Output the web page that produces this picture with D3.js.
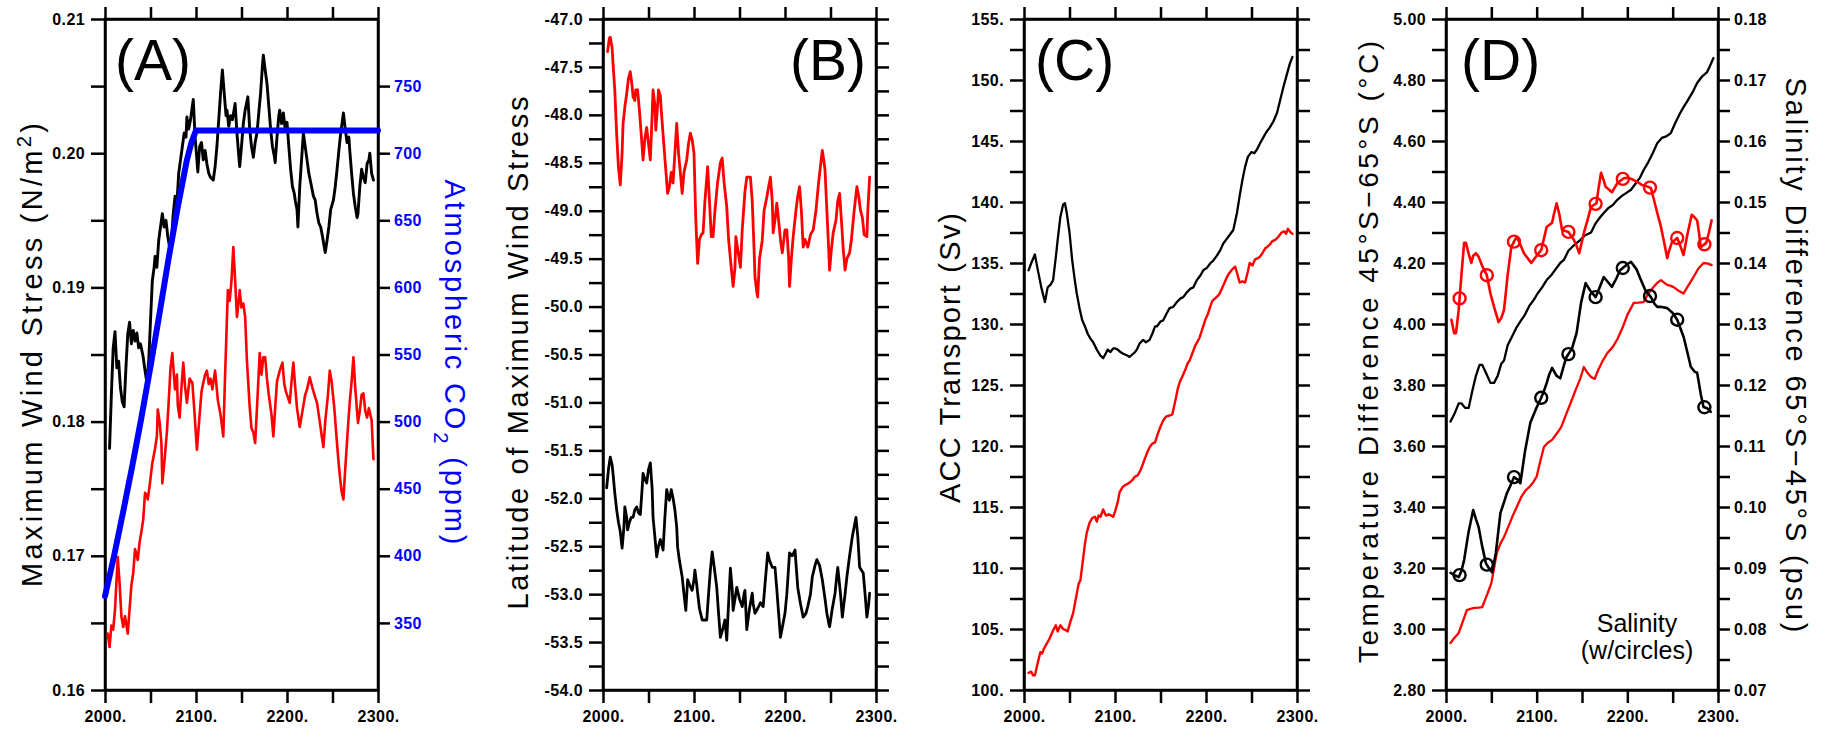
<!DOCTYPE html>
<html><head><meta charset="utf-8">
<script src="https://cdn.jsdelivr.net/npm/d3@7"></script>
<style>body{margin:0;background:#fff} text{font-family:Arial,'Liberation Sans',Helvetica,sans-serif}</style>
</head><body><svg id="c" width="1824" height="730"></svg>
<script>
// ---------------- DATA ----------------
const xTickYears = [2000,2050,2100,2150,2200,2250,2300];
const xLabelYears = [2000,2100,2200,2300];

// Panel A
const aStressLabels = [0.16,0.17,0.18,0.19,0.20,0.21];
const aStressTicks = [0.16,0.165,0.17,0.175,0.18,0.185,0.19,0.195,0.20,0.205,0.21];
const aCO2Ticks = [350,400,450,500,550,600,650,700,750];
const aWindBlack = [[2005,0.178],[2007,0.182],[2009,0.1855],[2011,0.1867],[2013,0.184],[2015,0.1845],[2017,0.1825],[2019,0.1815],[2021,0.1811],[2023,0.184],[2025,0.1865],[2027,0.1874],[2029,0.1858],[2031,0.1868],[2033,0.186],[2035,0.1866],[2037,0.1855],[2039,0.1858],[2042,0.1848],[2044,0.1838],[2046,0.1829],[2048,0.1845],[2050,0.1875],[2052,0.1905],[2054,0.1915],[2055,0.1923],[2057,0.1915],[2059,0.1935],[2061,0.1945],[2063,0.1955],[2065,0.1945],[2067,0.195],[2069,0.1938],[2071,0.193],[2073,0.1935],[2075,0.1955],[2077,0.1968],[2079,0.1962],[2081,0.1985],[2083,0.1995],[2085,0.2005],[2087,0.2015],[2089,0.2012],[2090,0.2027],[2092,0.2018],[2094,0.2025],[2097,0.204],[2099,0.2012],[2101,0.1995],[2102,0.1986],[2104,0.2005],[2106,0.2008],[2108,0.1995],[2110,0.2002],[2112,0.1992],[2114,0.1985],[2116,0.1982],[2119,0.198],[2121,0.199],[2123,0.2005],[2125,0.2025],[2127,0.2045],[2129,0.2062],[2131,0.2045],[2133,0.2028],[2134,0.2032],[2136,0.202],[2138,0.2028],[2140,0.2025],[2143,0.2037],[2145,0.2015],[2147,0.1998],[2148,0.199],[2150,0.2005],[2152,0.2022],[2154,0.2032],[2157,0.2042],[2159,0.2018],[2161,0.2005],[2163,0.1997],[2165,0.2008],[2167,0.2015],[2169,0.203],[2171,0.2045],[2173,0.2065],[2174,0.2073],[2176,0.2062],[2178,0.2052],[2180,0.2035],[2182,0.2018],[2184,0.2005],[2186,0.1998],[2187,0.1993],[2189,0.2012],[2191,0.2028],[2192,0.2032],[2194,0.2022],[2196,0.203],[2198,0.2018],[2200,0.2023],[2202,0.2005],[2204,0.1988],[2206,0.1975],[2208,0.197],[2209,0.1965],[2211,0.1958],[2212,0.1945],[2214,0.1975],[2216,0.1995],[2218,0.2015],[2220,0.2005],[2222,0.1995],[2224,0.1985],[2227,0.1975],[2229,0.1968],[2231,0.1965],[2233,0.1955],[2235,0.1948],[2237,0.1945],[2239,0.1938],[2241,0.193],[2242,0.1926],[2244,0.1935],[2246,0.1945],[2248,0.1958],[2251,0.1965],[2253,0.1975],[2255,0.1988],[2257,0.2002],[2259,0.2015],[2261,0.2025],[2262,0.203],[2264,0.2018],[2266,0.2008],[2268,0.2012],[2269,0.2002],[2271,0.1985],[2273,0.197],[2275,0.196],[2277,0.1952],[2278,0.1955],[2280,0.1975],[2282,0.1988],[2284,0.1982],[2286,0.1978],[2288,0.1992],[2290,0.1995],[2291,0.2],[2293,0.1985],[2295,0.198]];
const aWindRed = [[2003,0.1642],[2005,0.1632],[2007,0.1648],[2009,0.1645],[2011,0.166],[2014,0.1699],[2016,0.168],[2018,0.1655],[2020,0.1647],[2022,0.1655],[2025,0.1642],[2027,0.166],[2029,0.1678],[2031,0.1687],[2033,0.1705],[2036,0.1697],[2038,0.171],[2040,0.1718],[2042,0.1727],[2044,0.1747],[2046,0.1745],[2047,0.1742],[2049,0.1752],[2052,0.1769],[2055,0.178],[2057,0.1789],[2058,0.1809],[2060,0.18],[2062,0.1784],[2063,0.1754],[2065,0.1768],[2068,0.1792],[2070,0.1815],[2072,0.184],[2074,0.1851],[2076,0.1832],[2077,0.1824],[2079,0.1835],[2080,0.1812],[2082,0.1803],[2084,0.1825],[2086,0.1844],[2088,0.1826],[2090,0.1814],[2093,0.1832],[2096,0.1829],[2098,0.181],[2101,0.1779],[2104,0.1805],[2106,0.1822],[2108,0.1829],[2110,0.1835],[2112,0.1838],[2114,0.1828],[2116,0.1832],[2118,0.1824],[2121,0.1838],[2124,0.1816],[2127,0.1805],[2130,0.1789],[2132,0.1835],[2135,0.1898],[2137,0.189],[2139,0.1905],[2141,0.193],[2143,0.1905],[2145,0.1878],[2147,0.189],[2148,0.1898],[2150,0.1885],[2152,0.1888],[2154,0.1878],[2156,0.1845],[2159,0.1811],[2161,0.1795],[2163,0.1792],[2165,0.1784],[2167,0.181],[2170,0.1851],[2172,0.1835],[2174,0.1848],[2176,0.1848],[2178,0.1832],[2180,0.182],[2183,0.1805],[2185,0.1789],[2187,0.181],[2189,0.183],[2192,0.1838],[2195,0.1844],[2197,0.1828],[2199,0.1822],[2201,0.1818],[2203,0.1814],[2205,0.183],[2207,0.1844],[2209,0.1826],[2211,0.181],[2214,0.1796],[2217,0.1808],[2220,0.182],[2222,0.1824],[2225,0.1833],[2228,0.1825],[2231,0.1818],[2233,0.1814],[2236,0.18],[2238,0.179],[2240,0.1781],[2242,0.18],[2245,0.182],[2247,0.1838],[2249,0.183],[2252,0.181],[2254,0.1792],[2256,0.1775],[2258,0.176],[2260,0.1748],[2262,0.1742],[2264,0.1765],[2267,0.1796],[2269,0.1815],[2271,0.183],[2273,0.1848],[2275,0.1825],[2278,0.1799],[2280,0.1808],[2282,0.182],[2284,0.1821],[2286,0.1808],[2288,0.1803],[2290,0.181],[2293,0.1801],[2295,0.1772]];
const aCO2 = [[2000,370],[2010,400],[2020,433],[2030,467],[2040,503],[2050,541],[2060,581],[2070,622],[2080,660],[2090,695],[2095,708],[2100,717],[2300,717]];

// Panel B
const bLatLabels = [-54,-53.5,-53,-52.5,-52,-51.5,-51,-50.5,-50,-49.5,-49,-48.5,-48,-47.5,-47];
const bLatRed = [[2005,-47.34],[2007,-47.2],[2008,-47.19],[2010,-47.3],[2011,-47.46],[2013,-47.75],[2015,-48.2],[2017,-48.55],[2019,-48.73],[2021,-48.4],[2022,-48.1],[2024,-47.92],[2026,-47.78],[2028,-47.62],[2030,-47.55],[2032,-47.7],[2033,-47.81],[2035,-47.85],[2036,-47.74],[2038,-47.74],[2040,-47.95],[2042,-48.2],[2044,-48.47],[2046,-48.25],[2048,-48.13],[2050,-48.3],[2052,-48.47],[2054,-48.0],[2055,-47.74],[2057,-47.9],[2058,-48.16],[2060,-47.9],[2061,-47.74],[2063,-47.8],[2064,-47.95],[2066,-48.2],[2068,-48.45],[2071,-48.82],[2073,-48.75],[2075,-48.6],[2077,-48.71],[2079,-48.4],[2081,-48.09],[2083,-48.4],[2085,-48.6],[2087,-48.82],[2089,-48.6],[2092,-48.47],[2094,-48.3],[2096,-48.19],[2098,-48.26],[2100,-48.4],[2102,-49.1],[2104,-49.55],[2106,-49.3],[2108,-49.25],[2110,-49.23],[2112,-48.9],[2115,-48.54],[2117,-48.9],[2119,-49.27],[2121,-49.27],[2123,-49.0],[2126,-48.7],[2129,-48.5],[2131,-48.45],[2133,-48.7],[2136,-48.96],[2138,-49.3],[2141,-49.6],[2143,-49.79],[2145,-49.6],[2146,-49.27],[2148,-49.4],[2151,-49.59],[2153,-49.2],[2156,-48.8],[2158,-48.65],[2160,-48.65],[2162,-48.65],[2164,-48.9],[2166,-49.4],[2167,-49.69],[2169,-49.85],[2170,-49.9],[2172,-49.5],[2175,-49.31],[2177,-49.0],[2180,-48.86],[2182,-48.75],[2184,-48.65],[2186,-48.9],[2187,-49.23],[2189,-49.1],[2191,-48.92],[2193,-49.1],[2195,-49.3],[2197,-49.44],[2200,-49.2],[2202,-49.2],[2204,-49.5],[2205,-49.79],[2207,-49.5],[2209,-49.27],[2212,-49.0],[2214,-48.85],[2216,-48.75],[2218,-49.0],[2220,-49.38],[2222,-49.3],[2225,-49.38],[2228,-49.25],[2231,-49.2],[2234,-49.0],[2237,-48.7],[2240,-48.45],[2241,-48.37],[2243,-48.5],[2244,-48.58],[2246,-49.0],[2248,-49.4],[2249,-49.62],[2251,-49.4],[2253,-49.23],[2256,-49.1],[2258,-48.9],[2260,-48.82],[2262,-49.1],[2264,-49.4],[2266,-49.62],[2268,-49.5],[2271,-49.44],[2273,-49.3],[2276,-49.0],[2279,-48.75],[2281,-48.85],[2283,-49.0],[2285,-49.07],[2287,-49.25],[2290,-49.27],[2291,-49.0],[2293,-48.65]];
const bLatBlack = [[2004,-51.89],[2006,-51.7],[2008,-51.57],[2010,-51.65],[2011,-51.74],[2013,-51.95],[2015,-52.12],[2017,-52.25],[2019,-52.35],[2021,-52.52],[2023,-52.3],[2024,-52.09],[2026,-52.2],[2027,-52.33],[2029,-52.25],[2031,-52.2],[2033,-52.2],[2035,-52.12],[2037,-52.09],[2039,-52.15],[2041,-52.17],[2043,-51.9],[2044,-51.74],[2046,-51.8],[2048,-51.84],[2050,-51.7],[2052,-51.63],[2054,-51.9],[2055,-52.2],[2057,-52.4],[2059,-52.61],[2061,-52.5],[2063,-52.43],[2065,-52.5],[2066,-52.54],[2068,-52.2],[2070,-51.91],[2072,-52.0],[2073,-52.02],[2075,-51.91],[2077,-52.0],[2079,-52.12],[2081,-52.3],[2082,-52.51],[2084,-52.65],[2087,-52.82],[2089,-53.0],[2091,-53.17],[2093,-52.85],[2095,-52.9],[2098,-52.96],[2100,-52.85],[2101,-52.75],[2103,-52.9],[2104,-52.99],[2106,-53.15],[2109,-53.27],[2112,-53.27],[2114,-53.27],[2116,-53.0],[2118,-52.75],[2120,-52.56],[2122,-52.7],[2125,-52.93],[2127,-53.2],[2129,-53.45],[2132,-53.35],[2134,-53.27],[2136,-53.48],[2138,-53.1],[2140,-52.73],[2142,-52.95],[2143,-53.17],[2145,-53.05],[2147,-52.93],[2150,-53.05],[2153,-53.13],[2155,-53.0],[2156,-52.96],[2158,-53.37],[2161,-53.15],[2164,-52.99],[2165,-53.1],[2167,-53.2],[2170,-53.15],[2173,-53.09],[2176,-53.13],[2178,-52.9],[2181,-52.57],[2183,-52.65],[2186,-52.72],[2189,-52.72],[2191,-52.95],[2193,-53.2],[2195,-53.45],[2197,-53.35],[2200,-53.2],[2202,-53.0],[2205,-52.57],[2208,-52.6],[2211,-52.54],[2213,-52.8],[2214,-52.93],[2217,-53.1],[2220,-53.24],[2223,-53.2],[2225,-53.13],[2228,-53.0],[2230,-52.82],[2233,-52.7],[2235,-52.64],[2238,-52.7],[2241,-52.85],[2244,-53.05],[2246,-53.2],[2248,-53.3],[2249,-53.34],[2252,-53.15],[2255,-52.99],[2257,-52.8],[2258,-52.72],[2261,-53.0],[2263,-53.24],[2266,-53.0],[2268,-52.82],[2271,-52.6],[2274,-52.4],[2276,-52.3],[2278,-52.2],[2280,-52.4],[2282,-52.72],[2284,-52.75],[2286,-52.78],[2288,-53.0],[2290,-53.24],[2292,-53.1],[2293,-52.99]];

// Panel C
const cAccLabels = [100,105,110,115,120,125,130,135,140,145,150,155];
const cAccBlack = [[2005,134.4],[2008,135.0],[2012,135.7],[2015,134.5],[2019,133.0],[2023,131.8],[2026,133.0],[2029,133.2],[2032,133.6],[2035,135.5],[2037,136.9],[2040,138.8],[2043,139.8],[2045,139.9],[2047,139.1],[2050,137.5],[2053,135.2],[2056,133.5],[2058,132.5],[2061,131.3],[2064,130.3],[2067,129.8],[2070,129.2],[2073,128.8],[2076,128.5],[2080,127.9],[2084,127.4],[2087,127.2],[2090,127.6],[2092,127.9],[2095,127.7],[2098,128.0],[2100,128.0],[2103,127.9],[2106,127.7],[2108,127.6],[2111,127.5],[2114,127.4],[2116,127.3],[2119,127.5],[2122,127.7],[2124,127.9],[2127,128.4],[2131,128.7],[2134,128.5],[2138,128.7],[2141,129.2],[2144,129.8],[2146,129.8],[2150,130.2],[2153,130.3],[2157,130.9],[2160,131.3],[2164,131.4],[2168,131.8],[2172,132.1],[2175,132.2],[2179,132.6],[2183,132.9],[2186,133.0],[2190,133.6],[2194,134.0],[2197,134.4],[2201,134.6],[2205,135.0],[2208,135.2],[2212,135.6],[2216,136.1],[2219,136.6],[2223,137.0],[2227,137.4],[2230,137.7],[2234,139.1],[2237,140.5],[2240,141.8],[2243,142.9],[2246,143.7],[2250,144.1],[2253,144.0],[2256,144.3],[2260,144.9],[2263,145.3],[2266,145.7],[2270,146.1],[2274,146.6],[2278,147.3],[2281,148.2],[2285,149.4],[2289,150.5],[2292,151.3],[2295,151.9]];
const cAccRed = [[2005,101.4],[2008,101.5],[2010,101.2],[2012,101.2],[2015,102.2],[2018,103.1],[2020,103.0],[2022,103.4],[2025,103.8],[2028,104.2],[2032,104.9],[2035,105.3],[2037,104.8],[2040,105.3],[2043,105.0],[2046,104.9],[2048,104.8],[2051,105.6],[2054,106.3],[2057,107.5],[2060,108.7],[2062,109.0],[2065,110.8],[2067,112.0],[2069,112.9],[2072,113.7],[2075,114.1],[2078,114.2],[2080,113.8],[2082,114.3],[2084,114.2],[2087,114.8],[2090,114.3],[2093,114.4],[2096,114.3],[2098,114.2],[2100,114.6],[2103,115.4],[2105,116.2],[2108,116.6],[2111,116.8],[2114,116.9],[2116,117.0],[2119,117.2],[2122,117.5],[2125,117.6],[2128,118.0],[2131,118.6],[2133,119.0],[2135,119.4],[2138,119.9],[2141,120.2],[2144,120.3],[2147,121.0],[2150,121.6],[2153,122.1],[2156,122.4],[2160,122.5],[2163,122.6],[2166,123.6],[2169,124.7],[2171,125.2],[2174,125.7],[2177,126.2],[2180,126.8],[2182,127.0],[2185,127.6],[2188,128.2],[2191,128.6],[2193,128.9],[2196,129.6],[2199,130.3],[2202,130.8],[2205,131.5],[2207,131.9],[2210,132.1],[2213,132.3],[2215,132.5],[2218,133.0],[2221,133.5],[2224,134.0],[2226,134.2],[2229,134.5],[2232,134.7],[2234,134.2],[2237,133.4],[2240,133.5],[2243,133.4],[2246,134.3],[2248,135.0],[2251,134.8],[2254,135.3],[2257,135.4],[2259,135.5],[2262,135.8],[2265,136.2],[2267,136.3],[2270,136.5],[2273,136.8],[2276,136.9],[2279,137.1],[2281,137.3],[2283,137.5],[2286,137.6],[2288,137.4],[2290,137.8],[2293,137.5],[2295,137.4]];

// Panel D
const dTempLabels = [2.8,3.0,3.2,3.4,3.6,3.8,4.0,4.2,4.4,4.6,4.8,5.0];
const dSalLabels = [0.07,0.08,0.09,0.10,0.11,0.12,0.13,0.14,0.15,0.16,0.17,0.18];
const dTempBlack = [[2005,3.68],[2010,3.71],[2014,3.74],[2017,3.74],[2021,3.725],[2025,3.725],[2029,3.78],[2033,3.83],[2037,3.866],[2040,3.866],[2044,3.84],[2049,3.807],[2053,3.807],[2057,3.83],[2061,3.87],[2064,3.88],[2068,3.93],[2073,3.96],[2078,3.99],[2083,4.013],[2087,4.03],[2092,4.06],[2097,4.08],[2101,4.10],[2106,4.12],[2111,4.144],[2116,4.16],[2121,4.18],[2126,4.20],[2130,4.21],[2135,4.24],[2140,4.255],[2144,4.265],[2148,4.275],[2153,4.29],[2160,4.30],[2165,4.33],[2170,4.35],[2174,4.364],[2179,4.38],[2184,4.39],[2189,4.407],[2194,4.42],[2199,4.43],[2204,4.44],[2209,4.46],[2214,4.48],[2218,4.505],[2223,4.53],[2228,4.56],[2233,4.593],[2238,4.61],[2243,4.615],[2248,4.626],[2253,4.66],[2258,4.69],[2262,4.711],[2267,4.735],[2272,4.76],[2277,4.79],[2282,4.81],[2288,4.826],[2291,4.845],[2295,4.872]];
const dTempRed = [[2005,2.954],[2009,2.97],[2014,2.987],[2018,3.02],[2023,3.062],[2027,3.066],[2031,3.069],[2036,3.07],[2040,3.072],[2045,3.11],[2050,3.15],[2056,3.249],[2060,3.28],[2064,3.302],[2068,3.33],[2073,3.367],[2078,3.40],[2083,3.433],[2088,3.455],[2092,3.466],[2096,3.48],[2100,3.50],[2104,3.55],[2108,3.597],[2112,3.61],[2117,3.62],[2122,3.64],[2127,3.662],[2133,3.708],[2138,3.745],[2143,3.784],[2148,3.82],[2152,3.859],[2156,3.84],[2160,3.826],[2164,3.82],[2168,3.85],[2173,3.88],[2178,3.905],[2184,3.925],[2189,3.95],[2195,3.99],[2200,4.03],[2207,4.069],[2212,4.07],[2218,4.072],[2223,4.10],[2229,4.121],[2233,4.135],[2237,4.144],[2241,4.135],[2244,4.128],[2248,4.125],[2251,4.121],[2256,4.11],[2262,4.10],[2267,4.125],[2273,4.154],[2278,4.18],[2284,4.20],[2289,4.198],[2293,4.193]];
const dSalBlack = [[2005,0.0892],[2010,0.0888],[2014,0.0885],[2017,0.0895],[2020,0.0913],[2025,0.096],[2030,0.0995],[2033,0.098],[2036,0.0967],[2040,0.0935],[2044,0.0908],[2048,0.0898],[2051,0.0893],[2055,0.0925],[2060,0.099],[2064,0.1008],[2067,0.1022],[2071,0.1035],[2075,0.1049],[2079,0.1045],[2082,0.1039],[2087,0.109],[2093,0.1138],[2099,0.116],[2105,0.1179],[2108,0.119],[2111,0.1203],[2114,0.1218],[2117,0.1228],[2122,0.1215],[2126,0.1211],[2130,0.1232],[2133,0.1246],[2139,0.126],[2144,0.1285],[2149,0.1335],[2154,0.1367],[2159,0.1355],[2165,0.1344],[2170,0.1362],[2174,0.1377],[2179,0.1368],[2183,0.1361],[2188,0.1375],[2192,0.1388],[2196,0.1393],[2200,0.1398],[2204,0.1402],[2210,0.139],[2215,0.1372],[2220,0.1355],[2226,0.1344],[2230,0.1333],[2233,0.1328],[2238,0.1328],[2244,0.1326],[2250,0.1318],[2255,0.1307],[2258,0.1295],[2262,0.1279],[2266,0.1255],[2270,0.123],[2274,0.1222],[2277,0.122],[2281,0.1185],[2284,0.1164],[2288,0.1162],[2292,0.1156]];
const dSalRed = [[2006,0.1307],[2009,0.1285],[2011,0.1285],[2014,0.1323],[2017,0.138],[2020,0.1433],[2022,0.1433],[2025,0.1415],[2028,0.14],[2030,0.1412],[2033,0.1416],[2036,0.141],[2040,0.1395],[2045,0.138],[2049,0.135],[2053,0.1328],[2058,0.1303],[2061,0.131],[2064,0.1323],[2068,0.138],[2072,0.1426],[2075,0.1435],[2078,0.1443],[2082,0.143],[2086,0.1416],[2090,0.1408],[2094,0.14],[2100,0.1412],[2105,0.1421],[2108,0.144],[2111,0.1459],[2117,0.1466],[2119,0.148],[2122,0.1498],[2125,0.148],[2128,0.1454],[2135,0.1451],[2141,0.1438],[2144,0.1428],[2147,0.1416],[2152,0.1449],[2156,0.147],[2160,0.1492],[2166,0.1498],[2168,0.152],[2171,0.1548],[2174,0.1535],[2176,0.1525],[2180,0.152],[2183,0.1516],[2189,0.1531],[2196,0.1539],[2201,0.154],[2207,0.1536],[2212,0.1532],[2216,0.1528],[2221,0.1526],[2226,0.1523],[2230,0.15],[2233,0.1482],[2237,0.146],[2240,0.1438],[2244,0.1408],[2246,0.142],[2249,0.1433],[2255,0.1441],[2258,0.143],[2262,0.1413],[2266,0.1445],[2271,0.1479],[2274,0.1475],[2277,0.147],[2279,0.145],[2281,0.1426],[2287,0.1433],[2290,0.145],[2293,0.147]];
const dCircleYears = [2015,2045,2075,2105,2135,2165,2195,2225,2255,2285];

// ---------------- DRAWING ----------------
const svg = d3.select('#c');
svg.append('rect').attr('width',1824).attr('height',730).attr('fill','#fff');
const TOP = 19, BOT = 690;
const RED = '#ff0000', BLUE = '#0000ff';
const FONT = "Arial,'Liberation Sans',Helvetica,sans-serif";

function isIn(arr, d){ return arr.some(v => Math.abs(v-d) < 1e-7); }
function styleAxis(g, color){
  g.select('.domain').attr('stroke','#000').attr('stroke-width',2.5);
  g.selectAll('.tick line').attr('stroke','#000').attr('stroke-width',2.5);
  g.selectAll('.tick text').attr('font-size',16).attr('font-weight','bold')
    .attr('font-family',FONT).attr('fill',color||'#000').style('letter-spacing','0.4px');
}
function minorRange(a,b,step){ const n=Math.round((b-a)/step); return d3.range(n+1).map(i=>+(a+i*step).toFixed(6)); }

function panel(x0, x1, yDomain, leftTicks, leftLabels, leftFmt){
  const g = svg.append('g');
  const x = d3.scaleLinear().domain([2000,2300]).range([x0,x1]);
  const y = d3.scaleLinear().domain(yDomain).range([BOT,TOP]);
  const gb = g.append('g').attr('transform',`translate(0,${BOT})`)
    .call(d3.axisBottom(x).tickValues(xTickYears).tickSize(13).tickSizeOuter(0).tickPadding(8)
      .tickFormat(d => isIn(xLabelYears,d) ? d+'.' : ''));
  styleAxis(gb);
  const gt = g.append('g').attr('transform',`translate(0,${TOP})`)
    .call(d3.axisTop(x).tickValues(xTickYears).tickSize(12).tickSizeOuter(0).tickFormat(''));
  styleAxis(gt);
  const gl = g.append('g').attr('transform',`translate(${x0},0)`)
    .call(d3.axisLeft(y).tickValues(leftTicks).tickSize(14).tickSizeOuter(0).tickPadding(6)
      .tickFormat(d => isIn(leftLabels,d) ? leftFmt(d) : ''));
  styleAxis(gl);
  g.append('rect').attr('x',x0).attr('y',TOP).attr('width',x1-x0).attr('height',BOT-TOP)
    .attr('fill','none').attr('stroke','#000').attr('stroke-width',2.5);
  return {g,x,y};
}
function rightAxis(p, x1, scale, ticks, labels, fmt, color, size){
  const gr = p.g.append('g').attr('transform',`translate(${x1},0)`)
    .call(d3.axisRight(scale).tickValues(ticks).tickSize(size||13).tickSizeOuter(0).tickPadding(4)
      .tickFormat(d => labels && isIn(labels,d) ? fmt(d) : ''));
  styleAxis(gr, color);
}
function drawLine(p, data, ys, color, w){
  p.g.append('path').datum(data).attr('fill','none').attr('stroke',color).attr('stroke-width',w)
    .attr('stroke-linejoin','round').attr('stroke-linecap','round')
    .attr('d', d3.line().x(d=>p.x(d[0])).y(d=>ys(d[1])));
}
function title(x, y, rot, txt, len, color, size){
  const t = svg.append('text').attr('transform',`translate(${x},${y}) rotate(${rot})`)
    .attr('text-anchor','middle').attr('font-family',FONT).attr('font-size',size||29)
    .attr('fill',color||'#000');
  txt.forEach(s => {
    const ts = t.append('tspan').text(s.t);
    if (s.sup) ts.attr('baseline-shift','super').attr('font-size',(size||29)*0.7);
    if (s.sub) ts.attr('baseline-shift','sub').attr('font-size',(size||29)*0.7);
  });
  if (len) t.attr('textLength',len).attr('lengthAdjust','spacing');
  return t;
}
function plabel(x, txt){
  svg.append('text').attr('x',x).attr('y',80).attr('font-family',FONT).attr('font-size',57).text(txt);
}

// ---- Panel A ----
const pA = panel(105, 378, [0.16,0.21], aStressTicks, aStressLabels, d=>d.toFixed(2));
const yCO2 = d3.scaleLinear().domain([300,800]).range([BOT,TOP]);
rightAxis(pA, 378, yCO2, aCO2Ticks, aCO2Ticks, d=>String(d), BLUE, 12);
drawLine(pA, aWindBlack, pA.y, '#000', 2.9);
drawLine(pA, aWindRed, pA.y, RED, 2.6);
drawLine(pA, aCO2, yCO2, BLUE, 6);
plabel(115,'(A)');
title(42, 355, -90, [{t:'Maximum  Wind  Stress  (N/m'},{t:'2',sup:1},{t:')'}], 464);
title(445, 362, 90, [{t:'Atmospheric  CO'},{t:'2',sub:1},{t:'  (ppm)'}], 365, BLUE);

// ---- Panel B ----
const pB = panel(603, 876, [-54,-47], minorRange(-54,-47,0.25), bLatLabels, d=>d.toFixed(1));
rightAxis(pB, 876, pB.y, minorRange(-54,-47,0.25), null, null, '#000', 13);
drawLine(pB, bLatRed, pB.y, RED, 2.8);
drawLine(pB, bLatBlack, pB.y, '#000', 2.8);
plabel(790,'(B)');
title(528, 353, -90, [{t:'Latitude  of  Maximum  Wind  Stress'}], 513);

// ---- Panel C ----
const pC = panel(1024, 1297, [100,155], minorRange(100,155,2.5), cAccLabels, d=>d+'.');
rightAxis(pC, 1297, pC.y, minorRange(100,155,2.5), null, null, '#000', 13);
drawLine(pC, cAccBlack, pC.y, '#000', 2.3);
drawLine(pC, cAccRed, pC.y, RED, 2.4);
plabel(1035,'(C)');
title(960, 358, -90, [{t:'ACC  Transport  (Sv)'}], 290);

// ---- Panel D ----
const pD = panel(1446, 1718, [2.8,5.0], minorRange(2.8,5.0,0.1), dTempLabels, d=>d.toFixed(2));
const ySal = d3.scaleLinear().domain([0.07,0.18]).range([BOT,TOP]);
rightAxis(pD, 1718, ySal, minorRange(0.07,0.18,0.005), dSalLabels, d=>d.toFixed(2), '#000', 12);
drawLine(pD, dTempBlack, pD.y, '#000', 2.3);
drawLine(pD, dTempRed, pD.y, RED, 2.3);
drawLine(pD, dSalBlack, ySal, '#000', 2.6);
drawLine(pD, dSalRed, ySal, RED, 2.6);
function interp(series, yr){
  for (let i=0;i<series.length-1;i++){
    const a=series[i], b=series[i+1];
    if (yr>=a[0] && yr<=b[0]) return a[1]+(b[1]-a[1])*(yr-a[0])/(b[0]-a[0]);
  }
  return series[series.length-1][1];
}
[[dSalBlack,'#000'],[dSalRed,RED]].forEach(([s,c]) => {
  pD.g.selectAll(null).data(dCircleYears).enter().append('circle')
    .attr('cx', d=>pD.x(d)).attr('cy', d=>ySal(interp(s,d))).attr('r',6)
    .attr('fill','none').attr('stroke',c).attr('stroke-width',2.4);
});
plabel(1461,'(D)');
title(1378, 352, -90, [{t:'Temperature  Difference  45°S−65°S  (°C)'}], 622, '#000', 28);
title(1786, 355, 90, [{t:'Salinity  Difference  65°S−45°S  (psu)'}], 555, '#000', 29);
svg.append('text').attr('x',1637).attr('y',632).attr('text-anchor','middle').attr('font-family',FONT)
  .attr('font-size',25).text('Salinity');
svg.append('text').attr('x',1637).attr('y',659).attr('text-anchor','middle').attr('font-family',FONT)
  .attr('font-size',25).text('(w/circles)');
</script></body></html>
